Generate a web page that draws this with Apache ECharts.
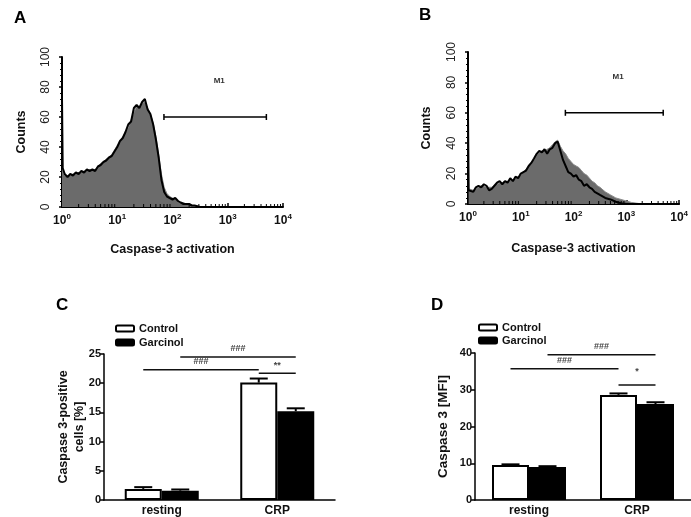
<!DOCTYPE html>
<html>
<head>
<meta charset="utf-8">
<title>Caspase-3</title>
<script src="https://cdn.jsdelivr.net/npm/echarts@6/dist/echarts.min.js"></script>
<style>
    html, body { margin: 0; padding: 0; background: #fff; }
    #main { width: 691px; height: 517px; }
</style>
</head>
<body>
<div id="main"></div>
<script>
    // histogram channels (A and B share them)
    var histX  = [1, 1.03, 1.12, 1.26, 1.41, 1.58, 1.78, 2.0, 2.24, 2.51, 2.82, 3.16, 3.55, 3.98, 4.47, 5.01, 5.62, 6.31, 7.08, 7.94, 8.91,
                  10, 11.2, 12.6, 14.1, 15.8, 17.8, 20.0, 22.4, 25.1, 28.2, 31.6, 35.5, 39.8, 44.7, 50.1, 56.2, 63.1, 70.8, 79.4, 89.1,
                  100, 112, 126, 141, 158, 178, 200, 224, 251, 282, 316, 398, 501, 631, 794, 1000, 1259, 1585, 2000, 10000];
    var grayA  = [70, 24, 21, 21, 21, 22, 22, 23, 23, 24, 24, 25, 25, 25, 27, 29, 30, 32, 33, 35, 38, 41,
                  43, 47, 50, 53, 58, 63, 67, 67, 69, 70, 66, 62, 56, 47, 35, 22, 13, 9, 7, 6,
                  5, 4, 3, 3, 2, 2, 1, 1, 0.5, 0, 0, 0, 0, 0, 0, 0, 0, 0, 0];
    var blackA = [73, 26, 22, 20, 22, 21, 23, 22, 24, 23, 25, 24, 25, 24, 27, 28, 30, 31, 33, 34, 37, 40,
                  44, 46, 50, 55, 57, 66, 68, 66, 70, 72, 65, 62, 55, 45, 33, 18, 10, 7, 6, 5,
                  6, 4, 3, 2, 2, 2, 1, 1, 0.5, 0, 0, 0, 0, 0, 0, 0, 0, 0, 0];
    var grayB  = [58, 10, 9, 9, 10, 11, 12, 12, 11, 11, 11, 12, 13, 14, 14, 15, 15, 16, 16, 17, 18, 19,
                  21, 23, 25, 27, 29, 32, 34, 35, 35, 36, 37, 39, 41, 42, 38, 35, 33, 30, 28, 26,
                  25, 24, 22, 20, 19, 17, 15, 14, 12, 11, 8, 6, 4, 3, 2, 1, 0.5, 0, 0];
    var blackB = [60, 9, 10, 8, 11, 12, 11, 13, 12, 9, 10, 12, 14, 15, 13, 15, 14, 17, 15, 18, 17, 20,
                  21, 22, 25, 27, 30, 33, 35, 34, 36, 33, 36, 37, 40, 41, 35, 29, 25, 21, 20, 18,
                  19, 16, 15, 12, 13, 11, 10, 8, 7, 6, 4, 3, 1.5, 0.5, 0, 0, 0, 0, 0];
    var logMinor = [2, 3, 4, 5, 6, 7, 8, 9, 20, 30, 40, 50, 60, 70, 80, 90, 200, 300, 400, 500, 600, 700, 800, 900, 2000, 3000, 4000, 5000, 6000, 7000, 8000, 9000];

    // M1 gate
    var m1Gate = [70, 5000];
    var m1Level = 60;
    var m1Label = [700, 84];

    // bar panels
    var groups = ['resting', 'CRP'];
    var cControl = [1.9, 20.1], cControlErr = [0.3, 0.7];
    var cGarcinol = [1.6, 15.2], cGarcinolErr = [0.2, 0.5];
    var dControl = [9.5, 28.6], dControlErr = [0.2, 0.4];
    var dGarcinol = [9.0, 26.1], dGarcinolErr = [0.2, 0.5];

    // comparisons: [fromGroup, fromBar, toGroup, toBar, level, text]  bar 0 = Control, 1 = Garcinol
    var sigC = [[0, 1, 1, 1, 24.5, '###'], [0, 0, 1, 0, 22.3, '###'], [1, 0, 1, 1, 21.7, '**']];
    var sigD = [[0, 1, 1, 1, 39.5, '###'], [0, 0, 1, 0, 35.7, '###'], [1, 0, 1, 1, 31.3, '*']];

    var BAR_W = 37;
    var FONT = 'Liberation Sans, Arial, sans-serif';

    function pairs(xs, ys) {
        return xs.map(function (x, i) { return [x, ys[i]]; });
    }

    function logAxis(gi, gap) {
        return {
            type: 'log', logBase: 10, gridIndex: gi, min: 1, max: 10000,
            name: 'Caspase-3 activation', nameLocation: 'middle', nameGap: gap,
            nameTextStyle: { fontFamily: FONT, fontWeight: 'bold', fontSize: 12.5, color: '#111' },
            axisLine: { lineStyle: { color: '#000', width: 2 } },
            axisTick: { inside: true, length: 4, lineStyle: { color: '#000', width: 1.5 } },
            splitLine: { show: false },
            axisLabel: {
                margin: 6,
                formatter: function (v) {
                    return '{b|10}{s|' + Math.round(Math.log(v) / Math.LN10) + '}';
                },
                rich: {
                    b: { fontFamily: FONT, fontWeight: 'bold', fontSize: 12, color: '#111', lineHeight: 16 },
                    s: { fontFamily: FONT, fontWeight: 'bold', fontSize: 8, color: '#111', verticalAlign: 'top', lineHeight: 10 }
                }
            }
        };
    }

    function countAxis(gi, gap) {
        return {
            type: 'value', gridIndex: gi, min: 0, max: 100, interval: 20,
            name: 'Counts', nameLocation: 'middle', nameGap: gap,
            nameTextStyle: { fontFamily: FONT, fontWeight: 'bold', fontSize: 12.5, color: '#111' },
            axisLine: { show: true, lineStyle: { color: '#000', width: 2 } },
            axisTick: { show: true, length: 3, lineStyle: { color: '#000', width: 1.5 } },
            minorTick: { show: true, splitNumber: 5, length: 2, lineStyle: { color: '#000' } },
            splitLine: { show: false },
            axisLabel: { rotate: 90, margin: 10, fontFamily: FONT, fontSize: 12, color: '#222' }
        };
    }

    function catAxis(gi) {
        return {
            type: 'category', gridIndex: gi, data: groups,
            axisLine: { lineStyle: { color: '#000', width: 1.5 } },
            axisTick: { show: false },
            axisLabel: { margin: 5, fontFamily: FONT, fontWeight: 'bold', fontSize: 12, color: '#111' }
        };
    }

    function barValueAxis(gi, max, step, name, nameGap, nameSize) {
        return {
            type: 'value', gridIndex: gi, min: 0, max: max, interval: step,
            name: name, nameLocation: 'middle', nameGap: nameGap, nameMoveOverlap: false,
            nameTextStyle: { fontFamily: FONT, fontWeight: 'bold', fontSize: nameSize, color: '#111', lineHeight: 16 },
            axisLine: { show: true, lineStyle: { color: '#000', width: 1.5 } },
            axisTick: { show: true, length: 4, lineStyle: { color: '#000', width: 1.5 } },
            splitLine: { show: false },
            axisLabel: { margin: 3, fontFamily: FONT, fontWeight: 'bold', fontSize: 11, color: '#111' }
        };
    }

    function histSeries(gi, gray, black) {
        return [
            {
                type: 'line', xAxisIndex: gi, yAxisIndex: gi, data: pairs(histX, gray),
                symbol: 'none', silent: true, z: 2,
                lineStyle: { color: '#8a8a8a', width: 1 },
                areaStyle: { color: '#6b6b6b', opacity: 1 }
            },
            {
                type: 'line', xAxisIndex: gi, yAxisIndex: gi, data: pairs(histX, black),
                symbol: 'none', silent: true, z: 3,
                lineStyle: { color: '#000', width: 2 }
            },
            {
                type: 'custom', xAxisIndex: gi, yAxisIndex: gi, silent: true, z: 4,
                data: logMinor.map(function (v) { return [v, 0]; }),
                renderItem: function (p, api) {
                    var pt = api.coord([api.value(0), 0]);
                    return { type: 'line', shape: { x1: pt[0], y1: pt[1], x2: pt[0], y2: pt[1] - 3 },
                        style: { stroke: '#000', lineWidth: 1 } };
                }
            },
            {
                type: 'custom', xAxisIndex: gi, yAxisIndex: gi, silent: true, z: 4,
                data: [[m1Gate[0], m1Gate[1], m1Level]],
                renderItem: function (p, api) {
                    var a = api.coord([api.value(0), api.value(2)]);
                    var b = api.coord([api.value(1), api.value(2)]);
                    var t = api.coord([m1Label[0], m1Label[1]]);
                    return {
                        type: 'group', children: [
                            { type: 'line', shape: { x1: a[0], y1: a[1], x2: b[0], y2: b[1] }, style: { stroke: '#000', lineWidth: 1.5 } },
                            { type: 'line', shape: { x1: a[0], y1: a[1] - 3, x2: a[0], y2: a[1] + 3 }, style: { stroke: '#000', lineWidth: 1.5 } },
                            { type: 'line', shape: { x1: b[0], y1: b[1] - 3, x2: b[0], y2: b[1] + 3 }, style: { stroke: '#000', lineWidth: 1.5 } },
                            { type: 'text', x: t[0], y: t[1], style: { text: 'M1', fill: '#333', font: 'bold 8px ' + FONT, align: 'center', verticalAlign: 'middle' } }
                        ]
                    };
                }
            }
        ];
    }

    function errSeries(gi, ctrl, ctrlErr, garc, garcErr) {
        var data = [];
        groups.forEach(function (g, i) {
            data.push([i, ctrl[i], ctrlErr[i], -1]);
            data.push([i, garc[i], garcErr[i], 1]);
        });
        return {
            type: 'custom', xAxisIndex: gi, yAxisIndex: gi, silent: true, z: 5, data: data,
            renderItem: function (p, api) {
                var base = api.coord([api.value(0), api.value(1)]);
                var top = api.coord([api.value(0), api.value(1) + api.value(2)]);
                var x = base[0] + api.value(3) * BAR_W / 2;
                return {
                    type: 'group', children: [
                        { type: 'line', shape: { x1: x, y1: base[1], x2: x, y2: top[1] }, style: { stroke: '#000', lineWidth: 2 } },
                        { type: 'line', shape: { x1: x - 9, y1: top[1], x2: x + 9, y2: top[1] }, style: { stroke: '#000', lineWidth: 2 } }
                    ]
                };
            }
        };
    }

    function sigSeries(gi, sig) {
        return {
            type: 'custom', xAxisIndex: gi, yAxisIndex: gi, silent: true, z: 5, clip: false,
            data: sig.map(function (s) { return [s[0], s[1], s[2], s[3], s[4]]; }),
            renderItem: function (p, api) {
                var s = sig[p.dataIndex];
                var a = api.coord([s[0], s[4]]);
                var b = api.coord([s[2], s[4]]);
                var x1 = a[0] + (s[1] === 0 ? -1 : 1) * BAR_W / 2;
                var x2 = b[0] + (s[3] === 0 ? -1 : 1) * BAR_W / 2;
                var up = s[5] === '*' ? 13 : 8;
                return {
                    type: 'group', children: [
                        { type: 'line', shape: { x1: x1, y1: a[1], x2: x2, y2: a[1] }, style: { stroke: '#111', lineWidth: 1.5 } },
                        { type: 'text', x: (x1 + x2) / 2, y: a[1] - up, style: { text: s[5], fill: '#444', font: 'bold 9px ' + FONT, align: 'center', verticalAlign: 'middle' } }
                    ]
                };
            }
        };
    }

    var myChart = echarts.init(document.getElementById('main'), null, { renderer: 'canvas' });

    var letterStyle = { fontFamily: FONT, fontWeight: 'bold', fontSize: 17, color: '#000' };
    var legendText = { fontFamily: FONT, fontWeight: 'bold', fontSize: 11, color: '#111' };

    option = {
        backgroundColor: '#fff',
        animation: false,
        title: [
            { text: 'A', left: 14, top: 10, padding: 0, textStyle: letterStyle },
            { text: 'B', left: 419, top: 7, padding: 0, textStyle: letterStyle },
            { text: 'C', left: 56, top: 297, padding: 0, textStyle: letterStyle },
            { text: 'D', left: 431, top: 297, padding: 0, textStyle: letterStyle }
        ],
        legend: [
            {
                left: 110, top: 318, orient: 'vertical', itemWidth: 18, itemHeight: 6, itemGap: 3,
                data: ['Control', 'Garcinol'], selectedMode: false, textStyle: legendText
            },
            {
                left: 473, top: 317, orient: 'vertical', itemWidth: 18, itemHeight: 6, itemGap: 2,
                data: ['Control', 'Garcinol'], selectedMode: false, textStyle: legendText
            }
        ],
        grid: [
            { left: 62, top: 57, width: 221, height: 150 },
            { left: 468, top: 52, width: 220, height: 152 },
            { left: 104, top: 354, width: 231, height: 147 },
            { left: 475, top: 353, width: 216, height: 148 }
        ],
        xAxis: [logAxis(0, 36), logAxis(1, 38), catAxis(2), catAxis(3)],
        yAxis: [
            countAxis(0, 34), countAxis(1, 35),
            barValueAxis(2, 25, 5, 'Caspase 3-positive\ncells [%]', 16, 12.5),
            barValueAxis(3, 40, 10, 'Caspase 3 [MFI]', 24, 13.5)
        ],
        series: [].concat(
            histSeries(0, grayA, blackA),
            histSeries(1, grayB, blackB),
            [
                { type: 'bar', name: 'Control', xAxisIndex: 2, yAxisIndex: 2, data: cControl, barWidth: BAR_W, barGap: '0%',
                  itemStyle: { color: '#fff', borderColor: '#000', borderWidth: 2 } },
                { type: 'bar', name: 'Garcinol', xAxisIndex: 2, yAxisIndex: 2, data: cGarcinol, barWidth: BAR_W, barGap: '0%',
                  itemStyle: { color: '#000', borderColor: '#000', borderWidth: 2 } },
                { type: 'bar', name: 'Control', xAxisIndex: 3, yAxisIndex: 3, data: dControl, barWidth: BAR_W, barGap: '0%',
                  itemStyle: { color: '#fff', borderColor: '#000', borderWidth: 2 } },
                { type: 'bar', name: 'Garcinol', xAxisIndex: 3, yAxisIndex: 3, data: dGarcinol, barWidth: BAR_W, barGap: '0%',
                  itemStyle: { color: '#000', borderColor: '#000', borderWidth: 2 } },
                errSeries(2, cControl, cControlErr, cGarcinol, cGarcinolErr),
                errSeries(3, dControl, dControlErr, dGarcinol, dGarcinolErr),
                sigSeries(2, sigC),
                sigSeries(3, sigD)
            ]
        )
    };

    myChart.setOption(option);
</script>
</body>
</html>
